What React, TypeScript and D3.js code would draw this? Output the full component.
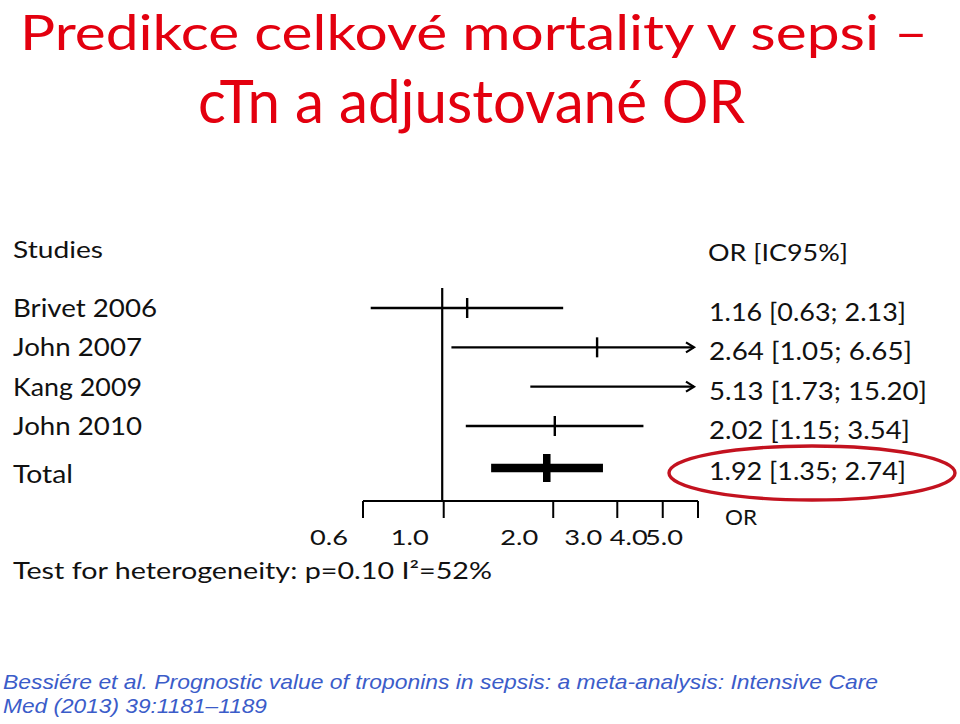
import React from "react";
import * as d3 from "d3";

const studies = ["Brivet 2006", "John 2007", "Kang 2009", "John 2010"];
const oddsRatio = [1.16, 2.64, 5.13, 2.02];
const lower = [0.63, 1.05, 1.73, 1.15];
const upper = [2.13, 6.65, 15.2, 3.54];
const totalLabel = "Total";
const totalOR = 1.92;
const totalLower = 1.35;
const totalUpper = 2.74;
const tickValues = [0.6, 1.0, 2.0, 3.0, 4.0, 5.0];
const ciLabels = [
  "1.16 [0.63; 2.13]",
  "2.64 [1.05; 6.65]",
  "5.13 [1.73; 15.20]",
  "2.02 [1.15; 3.54]",
];
const totalCiLabel = "1.92 [1.35; 2.74]";
const ciLabelWidths = [197, 203, 218, 201];

const FONT = "Lato, 'Open Sans', sans-serif";
const RED = "#E3000F";
const BLUE = "#3B5CC9";

type TProps = {
  x: number;
  y: number;
  size: number;
  w?: number;
  anchor?: "start" | "middle" | "end";
  fill?: string;
  family?: string;
  italic?: boolean;
  children: React.ReactNode;
};

function T({ x, y, size, w, anchor = "start", fill = "#111", family = FONT, italic, children }: TProps) {
  return (
    <text
      x={x}
      y={y}
      fontSize={size}
      fontFamily={family}
      fontStyle={italic ? "italic" : "normal"}
      fill={fill}
      textAnchor={anchor}
      textLength={w}
      lengthAdjust={w ? "spacingAndGlyphs" : undefined}
    >
      {children}
    </text>
  );
}

export default function App() {
  const x = d3.scaleLog().domain([0.6, 5]).range([363, 698]);
  const y = d3.scalePoint<string>().domain(studies).range([308, 426]);
  const totalY = 468;
  const axisY = 501;
  const xMax = x(5);

  return (
    <svg
      width={960}
      height={724}
      style={{ position: "absolute", left: 0, top: 0, background: "#fff" }}
    >
      <rect width={960} height={724} fill="#fff" />
      {/* Title */}
      <T x={20} y={50} size={49} w={908} fill={RED}>
        Predikce celkové mortality v sepsi –
      </T>
      <T x={198} y={123} size={60} w={547} fill={RED}>
        cTn a adjustované OR
      </T>

      {/* Headers */}
      <T x={13} y={258} size={23} w={90}>Studies</T>
      <T x={708} y={261} size={23} w={140}>OR [IC95%]</T>

      {/* Study labels */}
      {studies.map((s, i) => (
        <T key={s} x={13} y={(y(s) as number) + 9} size={25} w={i === 0 ? 144 : 129}>
          {s}
        </T>
      ))}
      <T x={13} y={totalY + 15} size={25} w={60}>{totalLabel}</T>

      {/* CI labels */}
      {ciLabels.map((l, i) => (
        <T key={l} x={709} y={(y(studies[i]) as number) + 13} size={25} w={ciLabelWidths[i]}>
          {l}
        </T>
      ))}
      <T x={709} y={totalY + 12} size={25} w={197}>{totalCiLabel}</T>

      {/* Reference line at OR = 1 */}
      <line x1={x(1) - 1.5} x2={x(1) - 1.5} y1={288} y2={axisY} stroke="#000" strokeWidth={2.2} />

      {/* Study CIs */}
      {studies.map((s, i) => {
        const yy = y(s) as number;
        const x1 = x(lower[i]);
        const clipped = upper[i] > 5;
        const x2 = clipped ? xMax - 4 : x(upper[i]);
        return (
          <g key={s}>
            <line x1={x1} x2={x2} y1={yy} y2={yy} stroke="#000" strokeWidth={2.4} />
            {clipped && (
              <path
                d={`M${x2 - 8},${yy - 5} L${x2},${yy} L${x2 - 8},${yy + 5}`}
                fill="none"
                stroke="#000"
                strokeWidth={2.2}
              />
            )}
            {oddsRatio[i] <= 5 && (
              <line
                x1={x(oddsRatio[i])}
                x2={x(oddsRatio[i])}
                y1={yy - 10}
                y2={yy + 10}
                stroke="#000"
                strokeWidth={2.4}
              />
            )}
          </g>
        );
      })}

      {/* Total */}
      <line
        x1={x(totalLower)}
        x2={x(totalUpper)}
        y1={totalY}
        y2={totalY}
        stroke="#000"
        strokeWidth={8.5}
      />
      <line
        x1={x(totalOR)}
        x2={x(totalOR)}
        y1={totalY - 14}
        y2={totalY + 14}
        stroke="#000"
        strokeWidth={7.5}
      />

      {/* Axis */}
      <line x1={x(0.6)} x2={xMax} y1={axisY} y2={axisY} stroke="#000" strokeWidth={2} />
      {tickValues.map((t) => (
        <g key={t}>
          <line x1={x(t)} x2={x(t)} y1={axisY} y2={axisY + 17} stroke="#000" strokeWidth={2} />
          <T x={x(t) - 15} y={545} size={22} w={38} anchor="end">
            {t.toFixed(1)}
          </T>
        </g>
      ))}
      <T x={725} y={525} size={22} w={32}>OR</T>

      <T x={13} y={579} size={24} w={479}>Test for heterogeneity: p=0.10 I²=52%</T>

      {/* Highlight ellipse */}
      <ellipse cx={812} cy={473} rx={143} ry={27} fill="none" stroke="#C3121F" strokeWidth={3.4} />

      {/* Footer */}
      <T x={3} y={689} size={21} w={875} fill={BLUE} family="'Liberation Sans', Arial, sans-serif" italic>
        Bessiére et al. Prognostic value of troponins in sepsis: a meta-analysis: Intensive Care
      </T>
      <T x={3} y={713} size={21} w={264} fill={BLUE} family="'Liberation Sans', Arial, sans-serif" italic>
        Med (2013) 39:1181–1189
      </T>
    </svg>
  );
}
